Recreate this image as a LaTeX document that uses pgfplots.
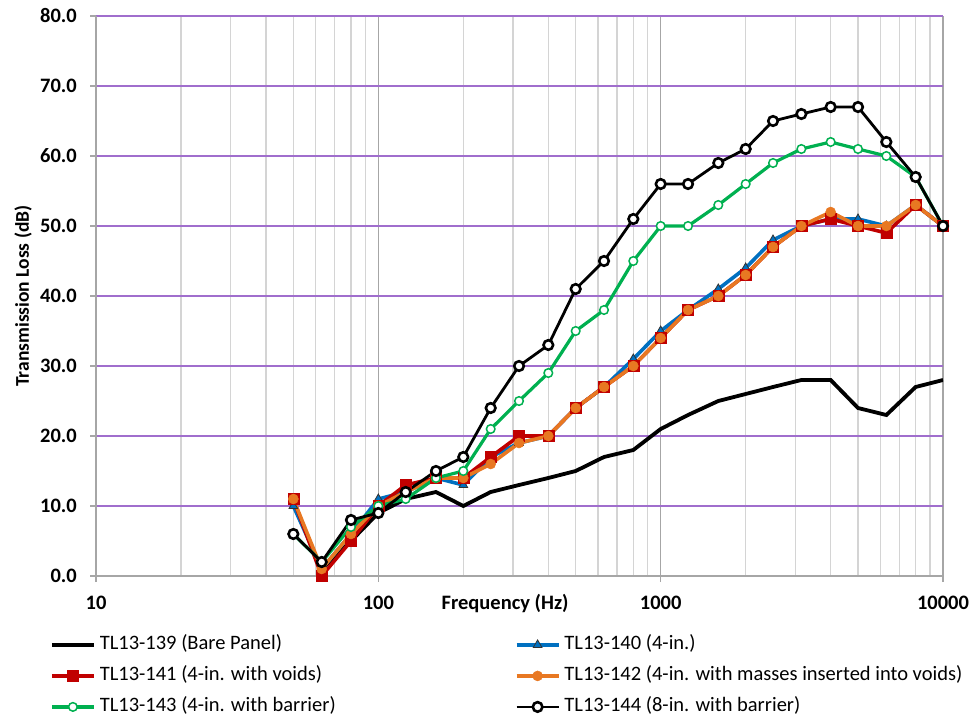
\documentclass[border=0pt]{standalone}
\usepackage{fontspec}
\setmainfont{Carlito}
\usepackage{pgfplots}
\pgfplotsset{compat=1.18}
\usetikzlibrary{calc}

\definecolor{gridpurple}{RGB}{160,110,205}
\definecolor{tlblue}{RGB}{0,112,192}
\definecolor{tlred}{RGB}{192,0,0}
\definecolor{tlorange}{RGB}{232,120,34}
\definecolor{tlgreen}{RGB}{0,176,80}

% transmission loss (dB) per 1/3-octave band
\pgfplotstableread{
f     a139 a140 a141 a142 a143 a144
50    nan  10   11   11   6    6
63    1    1    0    1    2    2
80    5    6    5    6    7    8
100   9    11   10   10   10   9
125   11   12   13   12   11   12
160   12   14   14   14   14   15
200   10   13   14   14   15   17
250   12   17   17   16   21   24
315   13   19   20   19   25   30
400   14   20   20   20   29   33
500   15   24   24   24   35   41
630   17   27   27   27   38   45
800   18   31   30   30   45   51
1000  21   35   34   34   50   56
1250  23   38   38   38   50   56
1600  25   41   40   40   53   59
2000  26   44   43   43   56   61
2500  27   48   47   47   59   65
3150  28   50   50   50   61   66
4000  28   51   51   52   62   67
5000  24   51   50   50   61   67
6300  23   50   49   50   60   62
8000  27   53   53   53   57   57
10000 28   50   50   50   50   50
}\tldata

\begin{document}
\begin{tikzpicture}
\begin{axis}[
    name=ax,
    at={(0,0)}, anchor=south west,
    scale only axis,
    width=847pt, height=560pt,
    xmode=log,
    xmin=10, xmax=10000,
    ymin=0, ymax=80,
    xtick={10,100,1000,10000},
    xticklabels={10,100,1000,10000},
    ytick={0,10,20,30,40,50,60,70,80},
    axis lines*=left,
    axis line style={draw=black!35, line width=1.2pt},
    xmajorgrids, xminorgrids, ymajorgrids,
    major x grid style={draw=black!35, line width=1.2pt},
    minor x grid style={draw=black!17, line width=1.2pt},
    major y grid style={draw=gridpurple, line width=1.2pt},
    tick align=outside,
    major tick length=6pt,
    minor tick length=0pt,
    tick style={draw=black!35, line width=1.2pt},
    ticklabel style={font=\fontsize{20.5}{24}\selectfont\bfseries, inner sep=0pt},
    yticklabel style={/pgf/number format/fixed, /pgf/number format/fixed zerofill,
        /pgf/number format/precision=1, /pgf/number format/assume math mode=true},
    yticklabel style={anchor=east, xshift=-13pt},
    xticklabel style={anchor=base, yshift=-27pt},
    xlabel={Frequency (Hz)},
    xlabel style={font=\fontsize{20.5}{24}\selectfont\bfseries, inner sep=0pt,
        at={(axis description cs:0.483,0)}, anchor=base, yshift=-33pt},
    ylabel={Transmission Loss (dB)},
    ylabel style={font=\fontsize{19.5}{22}\selectfont\bfseries, inner sep=0pt,
        at={(axis description cs:-0.086,0.5)}, anchor=center},
    legend columns=2,
    legend cell align=left,
    legend image code/.code={
        \draw[mark repeat=2, mark phase=2] plot coordinates {(0pt,0pt) (21pt,0pt) (42pt,0pt)};
    },
    legend style={
        at={(axis description cs:-0.0543,-0.107)}, anchor=north west,
        draw=none, fill=none, inner sep=0pt, outer sep=0pt,
        column sep=4pt, row sep=13pt,
        font=\fontsize{20.5}{24}\selectfont,
        nodes={inner sep=0pt, text height=14pt, text depth=4pt},
    },
]
\addplot[black, line width=3.8pt, no markers] table[x=f, y=a139] {\tldata};
\addlegendentry{\makebox[411pt][l]{TL13-139 (Bare Panel)}}
\addplot[tlblue, line width=3.6pt, mark=triangle*, mark size=5pt,
    mark options={fill=tlblue, draw=black!80, line width=0.8pt}] table[x=f, y=a140] {\tldata};
\addlegendentry{TL13-140 (4-in.)}
\addplot[tlred, line width=3.6pt, mark=square*, mark size=5.5pt,
    mark options={fill=tlred, draw=tlred, line width=0.5pt}] table[x=f, y=a141] {\tldata};
\addlegendentry{\makebox[411pt][l]{TL13-141 (4-in. with voids)}}
\addplot[tlorange, line width=3.6pt, mark=*, mark size=5pt,
    mark options={fill=tlorange, draw=tlorange, line width=0.5pt}] table[x=f, y=a142] {\tldata};
\addlegendentry{TL13-142 (4-in. with masses inserted into voids)}
\addplot[tlgreen, line width=3.2pt, mark=*, mark size=4.3pt,
    mark options={fill=white, draw=tlgreen, line width=1.5pt}] table[x=f, y=a143] {\tldata};
\addlegendentry{\makebox[411pt][l]{TL13-143 (4-in. with barrier)}}
\addplot[black, line width=2.8pt, mark=*, mark size=4.8pt,
    mark options={fill=white, draw=black, line width=2.6pt}] table[x=f, y=a144] {\tldata};
\addlegendentry{TL13-144 (8-in. with barrier)}
\end{axis}
\pgfresetboundingbox
\path[use as bounding box] ($(ax.south west)+(-96pt,-143pt)$) rectangle ($(ax.north east)+(29pt,16pt)$);
\end{tikzpicture}
\end{document}
